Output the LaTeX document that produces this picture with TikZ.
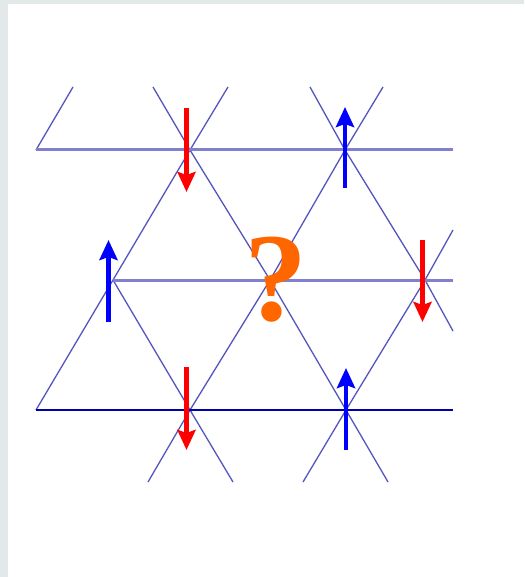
\documentclass[tikz,border=0pt]{standalone}
\usepackage{fontspec}
\newfontfamily\qfont{Liberation Serif}
\usetikzlibrary{arrows.meta}
\definecolor{bordergray}{HTML}{E3E8E8}
\definecolor{latline}{RGB}{85,85,190}
\definecolor{lathoriz}{RGB}{128,128,204}
\definecolor{latdark}{RGB}{0,0,170}
\definecolor{qorange}{HTML}{FF6600}
\begin{document}
\begin{tikzpicture}[x=1pt,y=-1pt,
  diag/.style={draw=latline,line width=1.3pt},
  hlight/.style={draw=lathoriz,line width=3pt},
  hdark/.style={draw=latdark,line width=1.7pt},
  spin/.style={line width=4.5pt,-{Stealth[length=20pt,width=18pt,inset=3pt]}},
  spinup/.style={spin,draw=blue},
  spindown/.style={spin,draw=red}]
\fill[white] (0,0) rectangle (524,577);
\fill[bordergray] (0,0) rectangle (8,577);
\fill[bordergray] (0,0) rectangle (524,4);
\useasboundingbox (0,0) rectangle (524,577);
% lattice points
\coordinate (A0) at (36,150);  \coordinate (A1) at (190,150);
\coordinate (A2) at (345,150); \coordinate (Ae) at (453,150);
\coordinate (B0) at (113,280); \coordinate (B1) at (270,280);
\coordinate (B2) at (425,280); \coordinate (Be) at (453,280);
\coordinate (C0) at (36,410);  \coordinate (C1) at (190,410);
\coordinate (C2) at (346,410); \coordinate (Ce) at (453,410);
\coordinate (t0) at (73,87);   \coordinate (t1) at (153,87);
\coordinate (t2) at (228,87);  \coordinate (t3) at (310,87);
\coordinate (t4) at (383,87);
\coordinate (b0) at (148,482); \coordinate (b1) at (233,482);
\coordinate (b2) at (303,482); \coordinate (b3) at (388,482);
\coordinate (r1) at (453,230); \coordinate (r2) at (453,331);
% diagonal lines
\draw[diag] (A0) -- (t0);
\draw[diag] (C0) -- (B0) -- (A1) -- (t2);
\draw[diag] (b0) -- (C1) -- (B1) -- (A2) -- (t4);
\draw[diag] (b2) -- (C2) -- (B2) -- (r1);
\draw[diag] (t1) -- (A1) -- (B1) -- (C2) -- (b3);
\draw[diag] (t3) -- (A2) -- (B2) -- (r2);
\draw[diag] (B0) -- (C1) -- (b1);
% horizontal lines
\draw[hlight] (A0) -- (Ae);
\draw[hlight] (B0) -- (Be);
\draw[hdark] (C0) -- (Ce);
% question mark
\node[anchor=base,inner sep=0pt,text=qorange,font=\qfont\bfseries\fontsize{126}{126}\selectfont] (q) at (276,320) {?};
% spins
\coordinate (s1a) at (186.5,108); \coordinate (s1b) at (186.5,192);
\coordinate (s2a) at (345,188);   \coordinate (s2b) at (345,107);
\coordinate (s3a) at (108.5,322); \coordinate (s3b) at (108.5,240);
\coordinate (s4a) at (422.5,240); \coordinate (s4b) at (422.5,322);
\coordinate (s5a) at (186.5,367); \coordinate (s5b) at (186.5,450);
\coordinate (s6a) at (346,450);   \coordinate (s6b) at (346,368);
\draw[spindown] (s1a) -- (s1b);
\draw[spinup] (s2a) -- (s2b);
\draw[spinup] (s3a) -- (s3b);
\draw[spindown] (s4a) -- (s4b);
\draw[spindown] (s5a) -- (s5b);
\draw[spinup] (s6a) -- (s6b);
\end{tikzpicture}
\end{document}
